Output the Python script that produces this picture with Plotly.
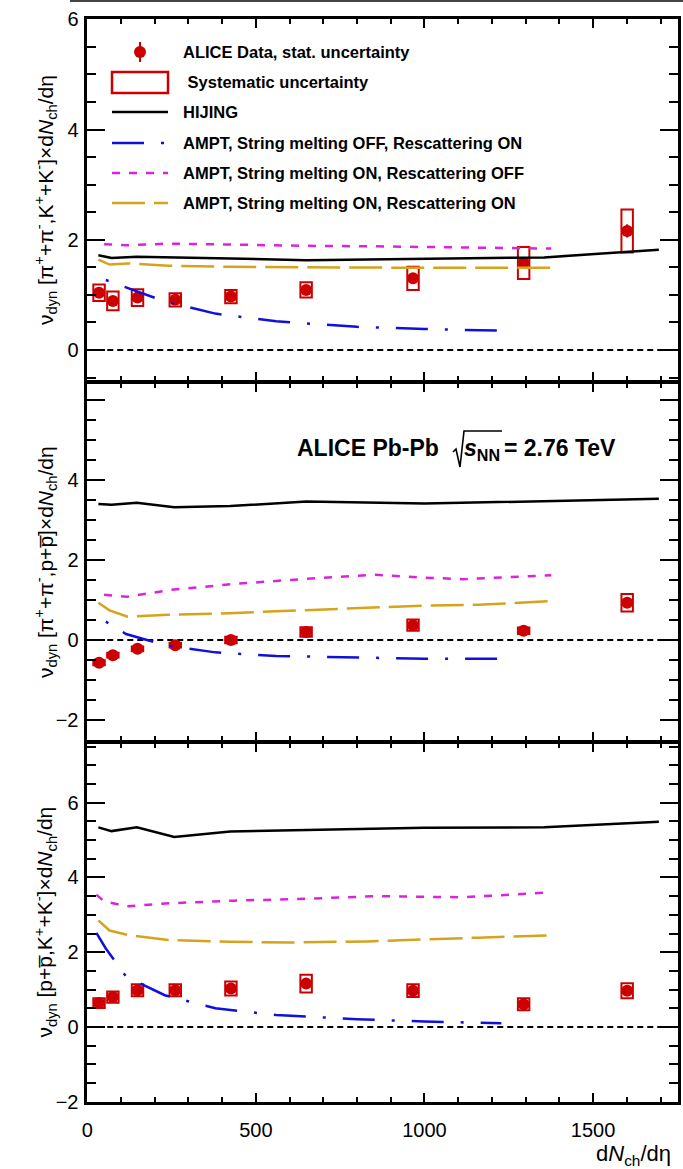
import plotly.graph_objects as go

# ---------------- data ----------------
data_x = [35, 76, 149, 261, 426, 649, 966, 1294, 1601]

piK_y = [1.04, 0.89, 0.95, 0.91, 0.97, 1.09, 1.30, 1.58, 2.16]
piK_stat = [0.03, 0.03, 0.03, 0.03, 0.03, 0.04, 0.06, 0.08, 0.12]
piK_sys = [0.15, 0.17, 0.15, 0.12, 0.12, 0.14, 0.21, 0.29, 0.39]

pip_y = [-0.57, -0.38, -0.22, -0.13, 0.00, 0.20, 0.37, 0.23, 0.93]
pip_stat = [0.03, 0.03, 0.03, 0.03, 0.03, 0.04, 0.05, 0.06, 0.10]
pip_sys = [0.06, 0.06, 0.06, 0.06, 0.08, 0.12, 0.14, 0.08, 0.22]

pK_y = [0.64, 0.80, 0.98, 0.98, 1.03, 1.16, 0.97, 0.61, 0.97]
pK_stat = [0.03, 0.03, 0.03, 0.03, 0.04, 0.05, 0.06, 0.07, 0.10]
pK_sys = [0.13, 0.15, 0.16, 0.16, 0.19, 0.24, 0.17, 0.16, 0.20]

hijing_x = [33, 72, 147, 258, 424, 650, 1000, 1355, 1695]
hijing_piK = [1.72, 1.67, 1.69, 1.68, 1.66, 1.63, 1.65, 1.68, 1.82]
hijing_pip = [3.40, 3.38, 3.43, 3.32, 3.35, 3.46, 3.41, 3.47, 3.53]
hijing_pK = [5.34, 5.24, 5.34, 5.08, 5.23, 5.27, 5.33, 5.34, 5.49]

smoff_x = [27, 55, 115, 230, 380, 560, 800, 1000, 1228]
smoff_piK = [None, 1.27, 1.14, 0.88, 0.66, 0.52, 0.42, 0.38, 0.35]
smoff_pip = [None, 0.46, 0.15, -0.13, -0.31, -0.40, -0.44, -0.47, -0.47]
smoff_pK = [2.52, 2.10, 1.35, 0.85, 0.50, 0.32, 0.21, 0.145, 0.10]

smon_off_x = [27, 50, 118, 245, 435, 650, 855, 1000, 1115, 1376]
smon_off_piK = [None, 1.92, 1.90, 1.93, 1.91, 1.89, 1.88, 1.87, 1.86, 1.84]
smon_off_pip = [None, 1.13, 1.08, 1.25, 1.40, 1.53, 1.63, 1.56, 1.52, 1.62]
smon_off_pK = [3.54, 3.36, 3.23, 3.31, 3.38, 3.43, 3.50, 3.48, 3.47, 3.60]

smon_on_x = [33, 66, 120, 240, 420, 600, 830, 1000, 1160, 1376]
smon_on_piK = [1.64, 1.55, 1.57, 1.53, 1.51, 1.50, 1.50, 1.49, 1.49, 1.49]
smon_on_pip = [0.93, 0.74, 0.58, 0.63, 0.67, 0.73, 0.82, 0.86, 0.88, 0.97]
smon_on_pK = [2.85, 2.58, 2.46, 2.33, 2.28, 2.26, 2.29, 2.35, 2.39, 2.45]

legend_labels = [
    "ALICE Data, stat. uncertainty",
    " Systematic uncertainty",
    "HIJING",
    "AMPT, String melting OFF, Rescattering ON",
    "AMPT, String melting ON, Rescattering OFF",
    "AMPT, String melting ON, Rescattering ON",
]

ytitles = [
    "ν<sub>dyn</sub> [π<sup>+</sup>+π<sup>-</sup>,K<sup>+</sup>+K<sup>-</sup>]×d<i>N</i><sub>ch</sub>/dη",
    "ν<sub>dyn</sub> [π<sup>+</sup>+π<sup>-</sup>,p+p\u0305]×d<i>N</i><sub>ch</sub>/dη",
    "ν<sub>dyn</sub> [p+p\u0305,K<sup>+</sup>+K<sup>-</sup>]×d<i>N</i><sub>ch</sub>/dη",
]

# ---------------- style ----------------
FONT = "Liberation Sans, Arial, Helvetica, sans-serif"
RED = "#cc0000"
BLUE = "#1010dd"
MAG = "#dd22dd"
GOLD = "#d6a31c"
W, H = 683, 1169
LW = 2.5


def px_x(px):
    return px / W


def px_y(py):
    return 1 - py / H


# plot-area edges (pixels), axis lines drawn half a line width outside
xdom = [px_x(86 + LW / 2), px_x(679 - LW / 2)]
dom_top = [px_y(382 - LW / 2), px_y(18 + LW / 2)]
dom_mid = [px_y(742 - LW / 2), px_y(382 + LW / 2)]
dom_bot = [px_y(1103 - LW / 2), px_y(742 + LW / 2)]

fig = go.Figure()

panels = [
    ("x", "y", piK_y, piK_stat, piK_sys, hijing_piK, smoff_piK, smon_off_piK, smon_on_piK, "3px,17px,32px,17px"),
    ("x2", "y2", pip_y, pip_stat, pip_sys, hijing_pip, smoff_pip, smon_off_pip, smon_on_pip, "3px,17px,32px,17px"),
    ("x3", "y3", pK_y, pK_stat, pK_sys, hijing_pK, smoff_pK, smon_off_pK, smon_on_pK, "32px,17px,3px,17px"),
]

for xa, ya, yv, st, sy, hij, soff, son_off, son_on, bdash in panels:
    fig.add_trace(go.Bar(
        x=data_x, y=[2 * s for s in sy], base=[v - s for v, s in zip(yv, sy)],
        width=34, xaxis=xa, yaxis=ya, showlegend=False,
        marker=dict(color="rgba(255,255,255,0)", line=dict(color=RED, width=2)),
    ))
    fig.add_trace(go.Scatter(
        x=data_x, y=yv, mode="markers", xaxis=xa, yaxis=ya, showlegend=False,
        marker=dict(color=RED, size=12, symbol="circle"),
        error_y=dict(type="data", array=st, color=RED, thickness=2, width=0),
    ))
    fig.add_trace(go.Scatter(x=hijing_x, y=hij, mode="lines", xaxis=xa, yaxis=ya,
                             showlegend=False, line=dict(color="black", width=2.5)))
    fig.add_trace(go.Scatter(x=smoff_x, y=soff, mode="lines", xaxis=xa, yaxis=ya,
                             showlegend=False, line=dict(color=BLUE, width=2.5, dash=bdash)))
    fig.add_trace(go.Scatter(x=smon_off_x, y=son_off, mode="lines", xaxis=xa, yaxis=ya,
                             showlegend=False, line=dict(color=MAG, width=2.5, dash="8px,9px")))
    fig.add_trace(go.Scatter(x=smon_on_x, y=son_on, mode="lines", xaxis=xa, yaxis=ya,
                             showlegend=False, line=dict(color=GOLD, width=2.5, dash="33px,9px")))

tickfont = dict(family=FONT, size=20, color="black")


def xaxis(anchor, labels):
    return dict(
        domain=xdom, anchor=anchor, range=[0, 1751],
        showline=True, linecolor="black", linewidth=LW, mirror="allticks",
        ticks="inside", ticklen=9, tickwidth=2, tickcolor="black",
        tick0=0, dtick=500,
        minor=dict(ticks="inside", ticklen=5, tickwidth=2, tickcolor="black", dtick=100, tick0=0),
        showgrid=False, zeroline=False, showticklabels=labels,
        tickfont=tickfont, ticklabelstandoff=8,
    )


def yaxis(anchor, domain, rng, tickvals, ticktext):
    return dict(
        domain=domain, anchor=anchor, range=rng,
        showline=True, linecolor="black", linewidth=LW, mirror="allticks",
        ticks="inside", ticklen=18, tickwidth=2, tickcolor="black",
        tickmode="array", tickvals=tickvals, ticktext=ticktext,
        minor=dict(ticks="inside", ticklen=9, tickwidth=2, tickcolor="black",
                   tickmode="linear", dtick=0.5, tick0=0),
        showgrid=False, zeroline=False, tickfont=tickfont, ticklabelstandoff=2,
    )


fig.update_layout(
    width=W, height=H,
    margin=dict(l=0, r=0, t=0, b=0, autoexpand=False),
    paper_bgcolor="white", plot_bgcolor="white",
    barmode="overlay", showlegend=False,
    font=dict(family=FONT, color="black"),
    xaxis=xaxis("y", False),
    xaxis2=xaxis("y2", False),
    xaxis3=xaxis("y3", True),
    yaxis=yaxis("x", dom_top, [-0.558, 6.0], [0, 2, 4, 6], ["0", "2", "4", "6"]),
    yaxis2=yaxis("x2", dom_mid, [-2.52, 6.42], [-2, 0, 2, 4, 6], ["−2", "0", "2", "4", ""]),
    yaxis3=yaxis("x3", dom_bot, [-2.0, 7.59], [-2, 0, 2, 4, 6], ["−2", "0", "2", "4", "6"]),
)

shapes = []
# dotted zero lines
for xr, yr in [("x", "y"), ("x2", "y2"), ("x3", "y3")]:
    shapes.append(dict(type="line", xref=xr + " domain", yref=yr, x0=0, x1=1, y0=0, y1=0,
                       line=dict(color="black", width=2, dash="6px,4px"), layer="below"))

# cropped frame line at the very top
shapes.append(dict(type="line", xref="paper", yref="paper", x0=px_x(70), x1=px_x(683),
                   y0=px_y(1), y1=px_y(1), line=dict(color="#444", width=2)))

# legend keys
rows = [52, 82, 112, 143, 173, 203]
k0, k1 = px_x(112), px_x(168)
shapes.append(dict(type="line", xref="paper", yref="paper", x0=px_x(140), x1=px_x(140),
                   y0=px_y(42), y1=px_y(62), line=dict(color=RED, width=2)))
shapes.append(dict(type="circle", xref="paper", yref="paper", x0=px_x(134), x1=px_x(146),
                   y0=px_y(58), y1=px_y(46), fillcolor=RED, line=dict(color=RED, width=0)))
shapes.append(dict(type="rect", xref="paper", yref="paper", x0=k0, x1=k1,
                   y0=px_y(93), y1=px_y(72), line=dict(color=RED, width=2.5)))
for yy, col, dash in [(112, "black", "solid"), (143, BLUE, "32px,17px,3px,17px"),
                      (173, MAG, "8px,9px"), (203, GOLD, "33px,9px")]:
    shapes.append(dict(type="line", xref="paper", yref="paper", x0=k0, x1=k1,
                       y0=px_y(yy), y1=px_y(yy), line=dict(color=col, width=2.5, dash=dash)))

# radical sign with overline for sqrt(s_NN)
rad = [(453, 452), (456, 449), (460, 467), (464, 431), (502, 431)]
path = "M " + " L ".join(f"{px_x(a):.5f},{px_y(b):.5f}" for a, b in rad)
shapes.append(dict(type="path", xref="paper", yref="paper", path=path,
                   line=dict(color="black", width=1.6)))

annotations = []
for yy, lab in zip(rows, legend_labels):
    annotations.append(dict(xref="paper", yref="paper", x=px_x(181), y=px_y(yy),
                            xanchor="left", yanchor="middle", showarrow=False,
                            text="<b>" + lab + "</b>", font=dict(family=FONT, size=16.5, color="black")))

for dom, txt in zip([dom_top, dom_mid, dom_bot], ytitles):
    annotations.append(dict(xref="paper", yref="paper", x=px_x(45), y=(dom[0] + dom[1]) / 2,
                            xanchor="center", yanchor="middle", showarrow=False, textangle=-90,
                            text=txt, font=dict(family=FONT, size=21, color="black")))

annotations.append(dict(xref="paper", yref="paper", x=px_x(673), y=px_y(1155),
                        xanchor="right", yanchor="middle", showarrow=False,
                        text="d<i>N</i><sub>ch</sub>/dη", font=dict(family=FONT, size=22, color="black")))

title_font = dict(family=FONT, size=23, color="black")
annotations.append(dict(xref="paper", yref="paper", x=px_x(295), y=px_y(448),
                        xanchor="left", yanchor="middle", showarrow=False,
                        text="<b>ALICE Pb-Pb</b>", font=title_font))
annotations.append(dict(xref="paper", yref="paper", x=px_x(462), y=px_y(450),
                        xanchor="left", yanchor="middle", showarrow=False,
                        text="<b><i>s</i><sub>NN</sub></b>", font=title_font))
annotations.append(dict(xref="paper", yref="paper", x=px_x(502), y=px_y(448),
                        xanchor="left", yanchor="middle", showarrow=False,
                        text="<b>= 2.76 TeV</b>", font=title_font))

fig.update_layout(shapes=shapes, annotations=annotations)

fig.write_html("out.html")
